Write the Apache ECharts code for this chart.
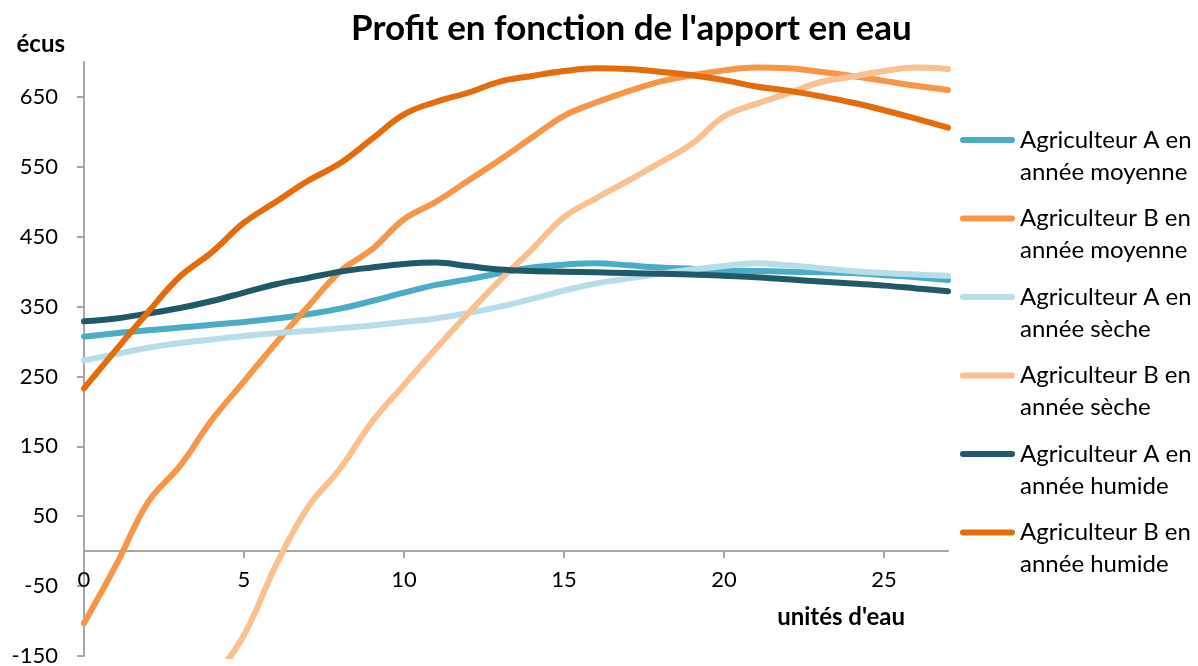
<!DOCTYPE html>
<html>
<head>
<meta charset="utf-8">
<script src="https://cdn.jsdelivr.net/npm/echarts@6/dist/echarts.min.js"></script>
<style>
  html, body { margin: 0; padding: 0; background: #ffffff; }
  #chart { width: 1198px; height: 666px; }
</style>
</head>
<body>
<div id="chart"></div>
<script>
// Units of water supplied (x axis)
const waterUnits = [0, 1, 2, 3, 4, 5, 6, 7, 8, 9, 10, 11, 12, 13, 14, 15, 16, 17, 18, 19, 20, 21, 22, 23, 24, 25, 26, 27];

// Profit (écus) per farmer and per type of year
const profitAMoyenne = [307, 312, 316, 320, 324, 328, 333, 339, 347, 358, 370, 381, 389, 398, 406, 410, 412, 409, 406, 404, 402, 401, 400, 399, 398, 395, 392, 388];
const profitBMoyenne = [-103, -20, 70, 122, 188, 243, 298, 350, 400, 432, 475, 500, 530, 560, 592, 623, 642, 658, 672, 681, 688, 692, 691, 686, 680, 673, 666, 660];
const profitASeche   = [273, 282, 291, 298, 303, 308, 312, 315, 319, 323, 328, 333, 341, 350, 361, 373, 383, 390, 397, 403, 408, 412, 409, 405, 401, 398, 396, 394];
const profitBSeche   = [null, null, null, null, -185, -120, -20, 63, 118, 185, 238, 290, 340, 388, 432, 478, 505, 530, 556, 583, 622, 640, 655, 671, 679, 687, 692, 690];
const profitAHumide  = [329, 333, 340, 348, 358, 370, 382, 391, 400, 406, 411, 413, 408, 403, 401, 400, 399, 398, 397, 396, 394, 392, 389, 386, 383, 380, 376, 372];
const profitBHumide  = [233, 288, 342, 393, 428, 470, 500, 530, 555, 590, 625, 643, 656, 672, 680, 687, 691, 690, 686, 681, 674, 665, 659, 651, 642, 631, 619, 606];

// Tick labels
const xTicks = [0, 5, 10, 15, 20, 25];
const yTicks = [-150, -50, 50, 150, 250, 350, 450, 550, 650];

const seriesDefs = [
  { name: 'Agriculteur A en\nannée moyenne', values: profitAMoyenne, color: '#4BACC6' },
  { name: 'Agriculteur B en\nannée moyenne', values: profitBMoyenne, color: '#F79646' },
  { name: 'Agriculteur A en\nannée sèche',   values: profitASeche,   color: '#B7DEE8' },
  { name: 'Agriculteur B en\nannée sèche',   values: profitBSeche,   color: '#FAC090' },
  { name: 'Agriculteur A en\nannée humide',  values: profitAHumide,  color: '#215968' },
  { name: 'Agriculteur B en\nannée humide',  values: profitBHumide,  color: '#E46C0A' }
];

const FONT = 'Lato, "Open Sans", sans-serif';
const AXIS_GREY = '#A6A6A6';

// Plot area and value range
const GRID = { left: 84, right: 250, top: 62, bottom: 10 };
const CHART_H = 666;
const Y_MIN = -150, Y_MAX = 700;
// Lift the horizontal axis so it runs along profit = 0
const plotHeight = CHART_H - GRID.top - GRID.bottom;
const zeroLift = (0 - Y_MIN) / (Y_MAX - Y_MIN) * plotHeight;

// Legend swatch: a rounded bar sitting at the level of the first text line
const legendIcon = 'path://M0,0M0,64M3,13L52,13Q55,13 55,16Q55,19 52,19L3,19Q0,19 0,16Q0,13 3,13Z';

const chart = echarts.init(document.getElementById('chart'), null, { renderer: 'canvas' });

chart.setOption({
  animation: false,
  backgroundColor: '#ffffff',
  title: {
    text: "Profit en fonction de l'apport en eau",
    left: 351,
    top: 11,
    padding: 0,
    textStyle: { fontFamily: FONT, fontSize: 35, fontWeight: 'bold', color: '#000000' }
  },
  legend: {
    orient: 'vertical',
    left: 960,
    top: 124,
    padding: 0,
    itemWidth: 55,
    itemHeight: 64,
    itemGap: 14.5,
    icon: legendIcon,
    selectedMode: false,
    textStyle: { fontFamily: FONT, fontSize: 24, lineHeight: 32, color: '#000000' },
    data: seriesDefs.map(s => s.name)
  },
  grid: {
    left: GRID.left,
    right: GRID.right,
    top: GRID.top,
    bottom: GRID.bottom,
    containLabel: false,
    outerBoundsMode: 'none'
  },
  xAxis: {
    type: 'value',
    position: 'bottom',
    offset: -zeroLift,
    min: 0,
    max: 27,
    interval: 5,
    name: "unités d'eau",
    nameLocation: 'end',
    nameGap: 0,
    nameTextStyle: {
      fontFamily: FONT, fontSize: 24, fontWeight: 'bold', color: '#000000',
      align: 'right', verticalAlign: 'top', padding: [54, 43, 0, 0]
    },
    axisLine: { onZero: false, lineStyle: { color: AXIS_GREY, width: 2 } },
    axisTick: { show: true, length: 7, inside: false, customValues: xTicks, lineStyle: { color: AXIS_GREY, width: 2 } },
    axisLabel: {
      show: true, customValues: xTicks, margin: 18,
      fontFamily: FONT, fontSize: 22, color: '#000000'
    },
    splitLine: { show: false }
  },
  yAxis: {
    type: 'value',
    min: Y_MIN,
    max: Y_MAX,
    interval: 100,
    name: 'écus',
    nameLocation: 'end',
    nameGap: 6,
    nameTextStyle: {
      fontFamily: FONT, fontSize: 24, fontWeight: 'bold', color: '#000000',
      align: 'right', padding: [0, 19, 0, 0]
    },
    axisLine: { show: true, onZero: false, lineStyle: { color: AXIS_GREY, width: 2 } },
    axisTick: { show: true, length: 7, inside: false, customValues: yTicks, lineStyle: { color: AXIS_GREY, width: 2 } },
    axisLabel: { customValues: yTicks, margin: 26, fontFamily: FONT, fontSize: 22, color: '#000000' },
    splitLine: { show: false }
  },
  series: seriesDefs.map(s => ({
    name: s.name,
    type: 'line',
    smooth: 0.4,
    showSymbol: false,
    symbol: 'none',
    clip: true,
    color: s.color,
    lineStyle: { color: s.color, width: 6, cap: 'round', join: 'round' },
    data: waterUnits
      .map((x, i) => [x, s.values[i]])
      .filter(p => p[1] !== null)
  }))
});
</script>
</body>
</html>
